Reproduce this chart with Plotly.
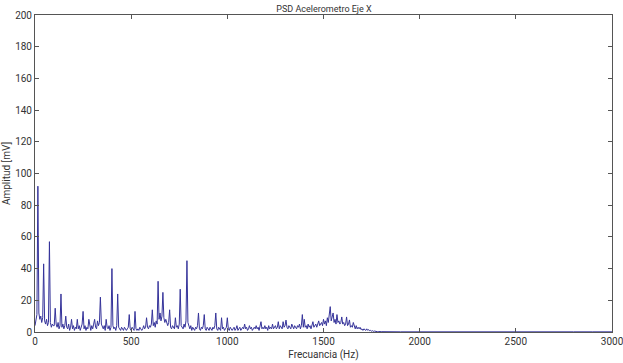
import plotly.graph_objects as go

# Amplitude per 5 Hz bin, 0 .. 1795 Hz
amp_0_1795 = [
    4, 9, 11, 92, 12, 8, 10, 6, 9, 43, 7, 5, 8, 4, 6, 57, 6, 3, 5, 4,
    4, 15, 5, 3, 6, 2, 4, 24, 3, 5, 2, 4, 10, 3, 2, 5, 1, 3, 8, 2,
    4, 1, 3, 2, 8, 2, 4, 1, 3, 5, 13, 2, 4, 1, 3, 2, 8, 3, 1, 4,
    2, 5, 8, 3, 2, 7, 4, 6, 22, 5, 3, 2, 4, 1, 8, 3, 2, 4, 1, 3,
    40, 4, 2, 3, 1, 4, 24, 3, 2, 1, 3, 2, 1, 3, 2, 1, 2, 3, 11, 2,
    1, 3, 2, 1, 13, 2, 1, 2, 1, 3, 2, 1, 2, 4, 2, 3, 9, 3, 2, 4,
    3, 5, 14, 4, 6, 3, 7, 5, 32, 8, 12, 7, 10, 25, 9, 6, 8, 5, 4, 6,
    14, 3, 2, 4, 3, 2, 9, 3, 4, 2, 5, 27, 4, 3, 2, 5, 3, 7, 45, 6,
    3, 2, 4, 1, 3, 2, 1, 3, 2, 4, 12, 2, 1, 3, 2, 4, 11, 2, 1, 3,
    2, 1, 3, 2, 1, 3, 2, 4, 12, 2, 1, 3, 2, 1, 9, 2, 3, 1, 2, 3,
    9, 2, 1, 3, 2, 1, 2, 3, 1, 2, 4, 1, 2, 3, 1, 2, 3, 2, 5, 2,
    3, 1, 2, 4, 2, 3, 1, 2, 3, 2, 4, 2, 3, 1, 4, 6.5, 2, 3, 2, 4,
    2, 3, 1, 4, 2, 3, 2, 5, 2, 3, 4, 2, 3, 6.5, 2, 4, 3, 2, 6.5, 3,
    4, 7.5, 3, 2, 4, 3, 2, 5, 3, 2, 4, 3, 2, 4, 3, 5, 2, 4, 11, 3,
    8, 3, 4, 2, 5, 3, 4, 2, 5, 6.5, 3, 4, 5, 3, 5, 7, 4, 5, 6, 4,
    8, 5, 7, 4, 9, 6, 10, 16, 7, 9, 12, 6, 8, 5, 11, 6, 7, 5, 6, 9.5,
    5, 6, 4, 5, 9.5, 4, 5, 7.6, 3, 4, 3, 6, 3, 2, 4, 2, 3, 2, 3, 1.5,
    2, 1, 2, 1.5, 1, 2, 1, 1.5, 0.8, 1, 0.5, 0.8, 0.4, 0.6, 0.3, 0.4, 0.2, 0.3, 0.2, 0.2,
]
freq_0_1795 = [i * 5 for i in range(len(amp_0_1795))]

# Near-zero tail, 1800 .. 3000 Hz
freq_tail = [1800, 1900, 2000, 2100, 2200, 2300, 2400, 2500, 2600, 2700, 2800, 2900, 3000]
amp_tail = [0.2, 0.1, 0.15, 0.1, 0.1, 0.1, 0.15, 0.1, 0.1, 0.1, 0.1, 0.1, 0.1]

freq = freq_0_1795 + freq_tail
amp = amp_0_1795 + amp_tail

x_ticks = [0, 500, 1000, 1500, 2000, 2500, 3000]
y_ticks = [0, 20, 40, 60, 80, 100, 120, 140, 160, 180, 200]

fig = go.Figure()
fig.add_trace(go.Scatter(x=freq, y=amp, mode="lines",
                         line=dict(color="#35339a", width=1),
                         showlegend=False, hoverinfo="skip"))

axis_common = dict(showgrid=False, zeroline=False, showline=True, linecolor="#555555",
                   linewidth=1, mirror="ticks", ticks="inside", ticklen=4, automargin=False,
                   ticklabeloverflow="allow",
                   tickcolor="#555555", tickfont=dict(family="Roboto", size=10, color="#333333"))

fig.update_layout(
    width=623, height=363,
    margin=dict(l=35, r=11, t=15, b=31),
    paper_bgcolor="white", plot_bgcolor="white",
    title=dict(text="PSD Acelerometro Eje X", x=0.52, xanchor="center", y=0.985, yanchor="top",
               font=dict(family="Roboto", size=9, color="#333333")),
    xaxis=dict(range=[0, 3000], tickvals=x_ticks,
               title=dict(text="Frecuancia (Hz)", standoff=4,
                          font=dict(family="Roboto", size=10, color="#333333")),
               **axis_common),
    yaxis=dict(range=[0, 200], tickvals=y_ticks,
               title=dict(text="Amplitud [mV]", standoff=2,
                          font=dict(family="Roboto", size=10, color="#333333")),
               **axis_common),
)

fig.write_html("out.html", config={"displayModeBar": False},
               post_script="document.body.style.margin='0';document.body.style.overflow='hidden';")
